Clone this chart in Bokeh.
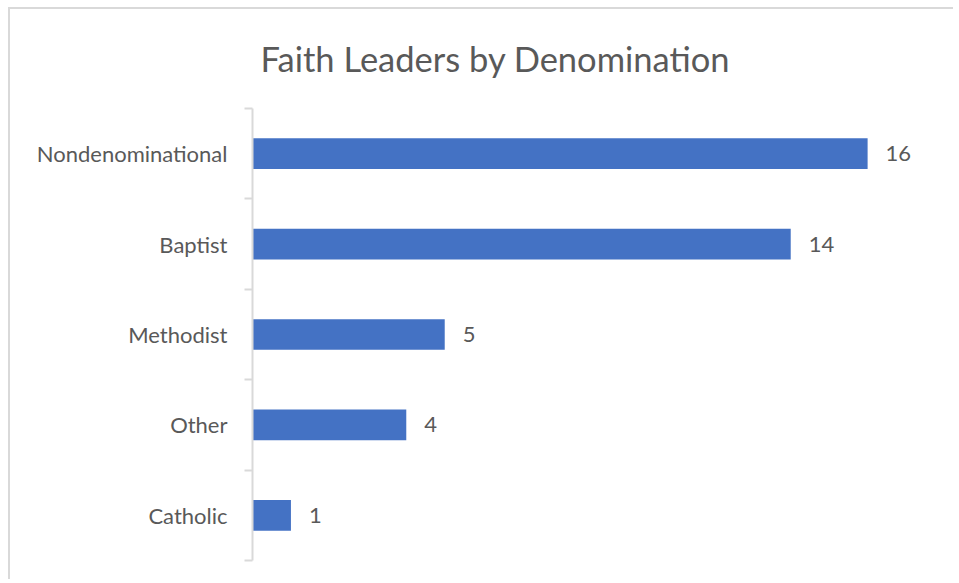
from bokeh.plotting import figure
from bokeh.models import FixedTicker, ColumnDataSource
from bokeh.core.properties import value
from bokeh.embed import file_html
from bokeh.resources import INLINE

categories = ["Catholic", "Other", "Methodist", "Baptist", "Nondenominational"]
counts = [1, 4, 5, 14, 16]
title_text = "Faith Leaders by Denomination"

positions = list(range(1, len(categories) + 1))
boundaries = [i + 0.5 for i in range(0, len(categories) + 1)]

src = ColumnDataSource(dict(y=positions, v=counts, lab=[str(c) for c in counts]))

FONT = "Lato"
GRAY = "#595959"

p = figure(width=945, height=572, output_backend="svg", toolbar_location=None,
           x_range=(0, 18), y_range=(0.5, 5.5),
           min_border_left=242, min_border_right=11, min_border_top=99, min_border_bottom=21,
           title=title_text)
p.styles = {"margin-top": "7px", "margin-left": "8px",
            "border-top": "2px solid #d9d9d9", "border-left": "2px solid #d9d9d9"}
p.background_fill_color = "white"
p.border_fill_color = "white"
p.outline_line_color = None
p.grid.visible = False

p.title.text_font = FONT
p.title.text_font_size = "34.5px"
p.title.text_font_style = "normal"
p.title.text_color = GRAY
p.title.align = "left"
p.title.vertical_align = "top"
p.title.offset = 8
p.title.standoff = 55

p.hbar(y="y", right="v", left=0, height=0.34, source=src, color="#4472C4", line_color=None)
p.text(x="v", y="y", text="lab", source=src, x_offset=18, text_baseline="middle",
       text_align="left", text_font=value(FONT), text_font_size="22px", text_color=GRAY)

p.xaxis.visible = False

ya = p.yaxis[0]
ya.ticker = FixedTicker(ticks=positions, minor_ticks=boundaries)
ya.major_label_overrides = {pos: cat for pos, cat in zip(positions, categories)}
ya.axis_line_color = "#d9d9d9"
ya.axis_line_width = 2
ya.major_tick_line_color = None
ya.major_tick_out = 0
ya.major_tick_in = 0
ya.minor_tick_line_color = "#d9d9d9"
ya.minor_tick_line_width = 2
ya.minor_tick_out = 8
ya.minor_tick_in = 0
ya.major_label_standoff = 17
ya.major_label_text_font = FONT
ya.major_label_text_font_size = "22px"
ya.major_label_text_color = GRAY

open("out.html", "w").write(file_html(p, INLINE))
